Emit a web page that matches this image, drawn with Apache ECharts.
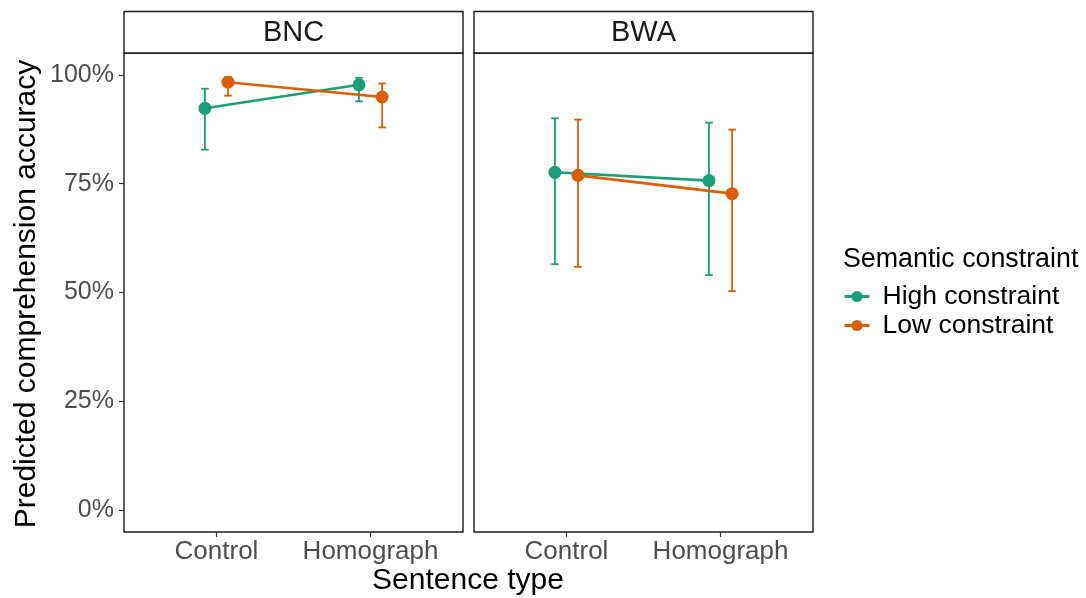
<!DOCTYPE html>
<html>
<head>
<meta charset="utf-8">
<script src="https://cdn.jsdelivr.net/npm/echarts@6/dist/echarts.min.js"></script>
<style>
html,body{margin:0;padding:0;background:#fff;}
#chart{width:1086px;height:598px;}
</style>
</head>
<body>
<div id="chart"></div>
<script>
// ---- Data (percent) ----
var categories = ['Control', 'Homograph'];
var panels = ['BNC', 'BWA'];
var groups = ['High constraint', 'Low constraint'];
var yTicks = [0, 25, 50, 75, 100];

var bncHigh = [92.3, 97.7];
var bncHighLower = [82.8, 93.9];
var bncHighUpper = [96.8, 99.3];
var bncLow = [98.3, 94.9];
var bncLowLower = [95.2, 87.9];
var bncLowUpper = [99.5, 98.0];

var bwaHigh = [77.6, 75.7];
var bwaHighLower = [56.5, 54.0];
var bwaHighUpper = [90.0, 89.0];
var bwaLow = [76.9, 72.7];
var bwaLowLower = [55.9, 50.3];
var bwaLowUpper = [89.7, 87.4];

// ---- Styling ----
var colors = ['#1B9E77', '#D95F02'];
var dodge = [-0.075, 0.075];
var font = '"Liberation Sans", Arial, Helvetica, sans-serif';
var panelLeft = [124, 474];
var panelWidth = 339;
var panelTop = 53;
var panelHeight = 479;
var frame = '#1A1A1A';

var panelData = [
  [[bncHigh, bncHighLower, bncHighUpper], [bncLow, bncLowLower, bncLowUpper]],
  [[bwaHigh, bwaHighLower, bwaHighUpper], [bwaLow, bwaLowLower, bwaLowUpper]]
];

var grids = [], xAxes = [], yAxes = [], lineSeries = [], errSeries = [], graphics = [];

panels.forEach(function (p, pi) {
  grids.push({
    left: panelLeft[pi], top: panelTop, width: panelWidth, height: panelHeight,
    show: true, borderColor: frame, borderWidth: 1.4, backgroundColor: '#fff'
  });
  xAxes.push({
    type: 'value', gridIndex: pi, min: 0.4, max: 2.6, position: 'bottom',
    axisLine: { show: false, onZero: false },
    splitLine: { show: false },
    axisTick: { show: true, length: 5, lineStyle: { color: '#333', width: 1.2 }, customValues: [1, 2] },
    axisLabel: {
      show: true, customValues: [1, 2], margin: 7,
      color: '#4D4D4D', fontSize: 26, fontFamily: font,
      formatter: function (v) { return categories[Math.round(v) - 1] || ''; }
    }
  });
  yAxes.push({
    type: 'value', gridIndex: pi, min: -5, max: 105, position: 'left',
    axisLine: { show: false, onZero: false },
    splitLine: { show: false },
    axisTick: { show: pi === 0, length: 5, lineStyle: { color: '#333', width: 1.2 }, customValues: yTicks },
    axisLabel: {
      show: pi === 0, customValues: yTicks, margin: 10,
      color: '#4D4D4D', fontSize: 25, fontFamily: font,
      formatter: function (v) { return v + '%'; }
    }
  });
  // strip
  graphics.push({
    type: 'rect', shape: { x: panelLeft[pi], y: 11.5, width: panelWidth, height: 41.5 },
    style: { fill: '#fff', stroke: frame, lineWidth: 1.4 }, z: 10
  });
  graphics.push({
    type: 'text', x: panelLeft[pi] + panelWidth / 2, y: 32.5,
    style: { text: p, fill: '#1A1A1A', font: '29px ' + font, textAlign: 'center', textVerticalAlign: 'middle' }, z: 11
  });

  groups.forEach(function (g, gi) {
    var vals = panelData[pi][gi][0], lo = panelData[pi][gi][1], hi = panelData[pi][gi][2];
    var pts = categories.map(function (c, ci) { return [ci + 1 + dodge[gi], vals[ci]]; });
    var errs = categories.map(function (c, ci) { return [ci + 1 + dodge[gi], lo[ci], hi[ci]]; });
    lineSeries.push({
      type: 'line', name: g, xAxisIndex: pi, yAxisIndex: pi,
      data: pts, symbol: 'circle', symbolSize: 13,
      lineStyle: { color: colors[gi], width: 2.6 },
      itemStyle: { color: colors[gi] },
      z: 5, animation: false
    });
    errSeries.push({
      type: 'custom', name: g, xAxisIndex: pi, yAxisIndex: pi,
      data: errs, z: 4, animation: false,
      encode: { x: 0, y: [1, 2] },
      renderItem: function (params, api) {
        var x = api.value(0);
        var a = api.coord([x, api.value(1)]);
        var b = api.coord([x, api.value(2)]);
        var hw = 3.8;
        var st = { stroke: colors[gi], lineWidth: 1.8 };
        return {
          type: 'group',
          children: [
            { type: 'line', shape: { x1: a[0], y1: a[1], x2: b[0], y2: b[1] }, style: st },
            { type: 'line', shape: { x1: a[0] - hw, y1: a[1], x2: a[0] + hw, y2: a[1] }, style: st },
            { type: 'line', shape: { x1: b[0] - hw, y1: b[1], x2: b[0] + hw, y2: b[1] }, style: st }
          ]
        };
      }
    });
  });
});

// axis titles and legend title
graphics.push({
  type: 'text', x: 27, y: 294, rotation: Math.PI / 2,
  style: { text: 'Predicted comprehension accuracy', fill: '#000', font: '30px ' + font, textAlign: 'center', textVerticalAlign: 'middle' }
});
graphics.push({
  type: 'text', x: 468, y: 581,
  style: { text: 'Sentence type', fill: '#000', font: '30px ' + font, textAlign: 'center', textVerticalAlign: 'middle' }
});
graphics.push({
  type: 'text', x: 843, y: 260,
  style: { text: 'Semantic constraint', fill: '#000', font: '26.8px ' + font, textAlign: 'left', textVerticalAlign: 'middle' }
});

var chart = echarts.init(document.getElementById('chart'), null, { renderer: 'canvas' });
chart.setOption({
  animation: false,
  backgroundColor: '#fff',
  grid: grids,
  xAxis: xAxes,
  yAxis: yAxes,
  legend: {
    data: groups, orient: 'vertical', left: 838, top: 278,
    itemWidth: 25, itemHeight: 14, itemGap: 2,
    lineStyle: { width: 3 },
    textStyle: { fontSize: 26.5, lineHeight: 26, color: '#000', fontFamily: font, padding: [0, 0, 0, 8] },
    selectedMode: false
  },
  graphic: graphics,
  series: lineSeries.concat(errSeries)
});
</script>
</body>
</html>
